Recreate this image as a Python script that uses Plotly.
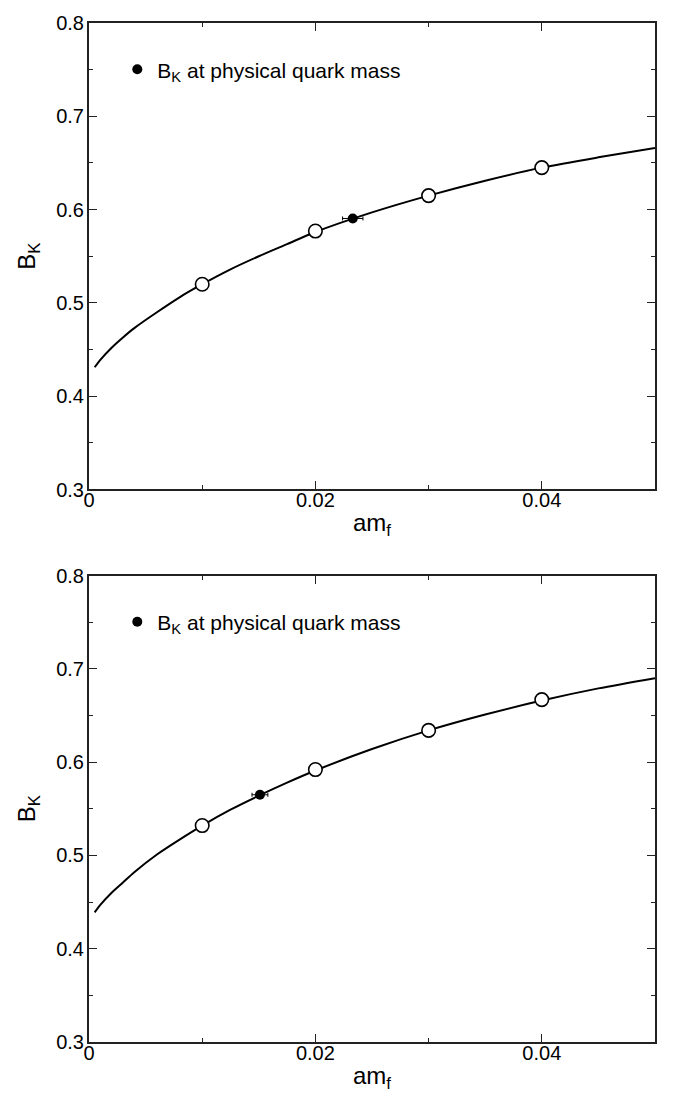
import plotly.graph_objects as go

# Simulation points (quark mass am_f, B_K) for the two ensembles
am_sim = [0.01, 0.02, 0.03, 0.04]
bk_sim_top = [0.520, 0.577, 0.615, 0.645]
bk_sim_bot = [0.532, 0.592, 0.634, 0.667]

# B_K interpolated to the physical quark mass (with errors)
am_phys_top = [0.0233]
am_phys_top_err = [0.0009]
bk_phys_top = [0.5905]
bk_phys_top_err = [0.002]

am_phys_bot = [0.0151]
am_phys_bot_err = [0.0007]
bk_phys_bot = [0.565]
bk_phys_bot_err = [0.003]

# Chiral fit curves, sampled along am_f
am_fit = [0.0005, 0.001, 0.002, 0.003, 0.004, 0.006, 0.008, 0.01, 0.0125,
          0.015, 0.0175, 0.02, 0.025, 0.03, 0.035, 0.04, 0.045, 0.05]
bk_fit_top = [0.431, 0.439, 0.452, 0.463, 0.473, 0.490, 0.506, 0.520, 0.536,
              0.550, 0.563, 0.576, 0.597, 0.615, 0.631, 0.645, 0.656, 0.666]
bk_fit_bot = [0.439, 0.447, 0.460, 0.471, 0.482, 0.501, 0.517, 0.532, 0.549,
              0.564, 0.578, 0.591, 0.614, 0.634, 0.651, 0.666, 0.679, 0.690]

legend_text = "B<sub>K</sub> at physical quark mass"
FONT = "Liberation Sans, Arial, Helvetica, sans-serif"

fig = go.Figure()

panels = [
    ("x", "y", "legend", bk_fit_top, bk_sim_top,
     am_phys_top, am_phys_top_err, bk_phys_top, bk_phys_top_err),
    ("x2", "y2", "legend2", bk_fit_bot, bk_sim_bot,
     am_phys_bot, am_phys_bot_err, bk_phys_bot, bk_phys_bot_err),
]

for xa, ya, lg, bfit, bsim, ap, ape, bp, bpe in panels:
    fig.add_trace(go.Scatter(
        x=am_fit, y=bfit, mode="lines", xaxis=xa, yaxis=ya,
        line=dict(color="black", width=2, shape="spline", smoothing=0.8),
        showlegend=False, hoverinfo="skip"))
    fig.add_trace(go.Scatter(
        x=am_sim, y=bsim, mode="markers", xaxis=xa, yaxis=ya,
        marker=dict(symbol="circle", size=13.5, color="white",
                    line=dict(color="black", width=1.6)),
        showlegend=False))
    fig.add_trace(go.Scatter(
        x=ap, y=bp, mode="markers", xaxis=xa, yaxis=ya,
        name=legend_text, legend=lg,
        marker=dict(symbol="circle", size=10, color="black"),
        error_x=dict(type="data", array=ape, color="black", thickness=1, width=2),
        error_y=dict(type="data", array=bpe, color="black", thickness=1, width=2),
        showlegend=True))

axis_common = dict(
    showline=True, linecolor="#222", linewidth=2, mirror="ticks",
    ticks="inside", ticklen=8, tickwidth=1.2, tickcolor="#222",
    showgrid=False, zeroline=False,
    tickfont=dict(family=FONT, size=20, color="black"),
)

xaxis_common = dict(axis_common, range=[0, 0.05], tick0=0, dtick=0.02,
                    ticklabelstandoff=-8,
                    minor=dict(ticks="inside", ticklen=4, tickcolor="#222",
                               dtick=0.01, tick0=0, showgrid=False),
                    title=dict(text="am<sub>f</sub>", standoff=4,
                               font=dict(family=FONT, size=24, color="black")))
yaxis_common = dict(axis_common, range=[0.3, 0.8], tick0=0.3, dtick=0.1,
                    ticklabelstandoff=-1,
                    minor=dict(ticks="inside", ticklen=4, tickcolor="#222",
                               dtick=0.05, tick0=0.3, showgrid=False),
                    title=dict(text="B<sub>K</sub>", standoff=14,
                               font=dict(family=FONT, size=24, color="black")))

top_dom = [0.5422, 1.0]
bot_dom = [0.0, 0.4578]

legend_common = dict(
    font=dict(family=FONT, size=21, color="black"),
    bgcolor="rgba(0,0,0,0)", borderwidth=0,
    xanchor="left", yanchor="middle", itemwidth=30,
)

fig.update_layout(
    width=673, height=1102,
    margin=dict(l=89, r=18, t=12, b=60),
    paper_bgcolor="white", plot_bgcolor="white",
    xaxis=dict(xaxis_common, domain=[0, 1], anchor="y"),
    yaxis=dict(yaxis_common, domain=top_dom, anchor="x"),
    xaxis2=dict(xaxis_common, domain=[0, 1], anchor="y2"),
    yaxis2=dict(yaxis_common, domain=bot_dom, anchor="x2"),
    legend=dict(legend_common, x=0.05, y=top_dom[0] + 0.90 * (top_dom[1] - top_dom[0])),
    legend2=dict(legend_common, x=0.05, y=bot_dom[0] + 0.90 * (bot_dom[1] - bot_dom[0])),
    font=dict(family=FONT, color="black"),
)

fig.write_html("out.html")
